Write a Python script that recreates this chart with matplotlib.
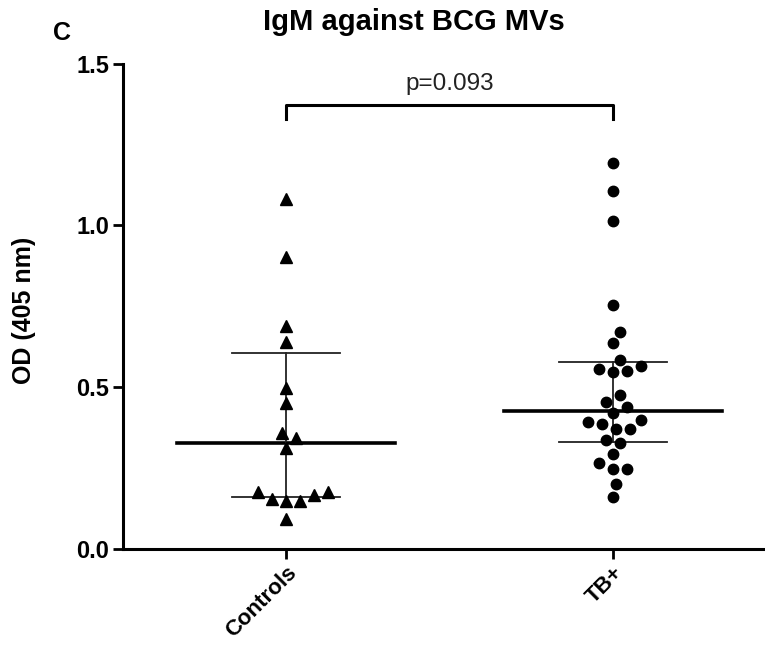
import numpy as np
import matplotlib
matplotlib.use("Agg")
import matplotlib.pyplot as plt

plt.rcParams["font.family"] = ["Liberation Sans", "DejaVu Sans"]

groups = ["Controls", "TB+"]
controls = [1.080, 0.901, 0.689, 0.638, 0.496, 0.449, 0.356, 0.341, 0.312,
            0.176, 0.165, 0.147, 0.147, 0.153, 0.174, 0.090]
tb_pos = [1.191, 1.107, 1.014, 0.754, 0.669, 0.635, 0.583, 0.564, 0.554,
          0.545, 0.549, 0.475, 0.454, 0.437, 0.418, 0.397, 0.392, 0.384,
          0.369, 0.369, 0.336, 0.327, 0.291, 0.264, 0.245, 0.245, 0.200, 0.160]
medians = [0.327, 0.425]
lower = [0.158, 0.328]
upper = [0.606, 0.578]
p_text = "p=0.093"
bracket_y = 1.372
bracket_drop = 0.044

fig = plt.figure(figsize=(7.65, 6.46), dpi=100)
ax = fig.add_axes([0.1608, 0.1509, 0.8392, 0.7508])
ax.set_xlim(-0.498, 1.465)
ax.set_ylim(0, 1.5)


def swarm(values, xpx, ypx, diam=13.0, step=3.5):
    # simple beeswarm in pixel space, returns x offsets in data units
    order = np.argsort(values)
    placed = []
    offs = np.zeros(len(values))
    for i in order:
        y = values[i] * ypx
        k = 0
        while True:
            cands = [0.0] if k == 0 else [k * step, -k * step]
            ok = None
            for c in cands:
                if all((c - px) ** 2 + (y - py) ** 2 >= diam ** 2 for px, py in placed):
                    ok = c
                    break
            if ok is not None:
                break
            k += 1
        placed.append((ok, y))
        offs[i] = ok / xpx
    return offs


fig.canvas.draw()
bb = ax.get_window_extent()
xpx = bb.width / (ax.get_xlim()[1] - ax.get_xlim()[0])
ypx = bb.height / (ax.get_ylim()[1] - ax.get_ylim()[0])

data = [controls, tb_pos]
markers = ["^", "o"]
sizes = [8, 7.5]
for g, (vals, m, ms) in enumerate(zip(data, markers, sizes)):
    vals = np.array(vals)
    offs = swarm(vals, xpx, ypx)
    ax.plot(g + offs, vals, linestyle="none", marker=m, markersize=ms,
            color="black", zorder=3)
    # median and range bars
    ax.plot([g - 0.334, g + 0.334], [medians[g]] * 2, color="black", lw=2.6, zorder=2)
    ax.plot([g, g], [lower[g], upper[g]], color="#222222", lw=1.3, zorder=2)
    for v in (lower[g], upper[g]):
        ax.plot([g - 0.166, g + 0.166], [v, v], color="#222222", lw=1.3, zorder=2)

# significance bracket
ax.plot([0, 0, 1, 1], [bracket_y - bracket_drop, bracket_y, bracket_y, bracket_y - bracket_drop],
        color="black", lw=2.2, clip_on=False)
ax.text(0.5, bracket_y + 0.03, p_text, ha="center", va="bottom", fontsize=17.5,
        color="#222222")

for s in ["top", "right"]:
    ax.spines[s].set_visible(False)
for s in ["left", "bottom"]:
    ax.spines[s].set_linewidth(2.2)

ax.set_yticks([0, 0.5, 1.0, 1.5])
ax.set_yticklabels(["0.0", "0.5", "1.0", "1.5"], fontsize=17, fontweight="bold")
ax.set_xticks([0, 1])
ax.set_xticklabels(groups, fontsize=16, fontweight="bold", rotation=45,
                   ha="right", rotation_mode="anchor")
ax.tick_params(axis="both", length=7, width=2, direction="out", pad=3)

fig.text(24 / 765, 1 - 310 / 646, "OD (405 nm)", rotation=90, ha="center",
         va="center", fontsize=18, fontweight="bold")
fig.text(414 / 765, 1 - 22 / 646, "IgM against BCG MVs", ha="center",
         va="center", fontsize=21, fontweight="bold")
fig.text(62 / 765, 1 - 33 / 646, "C", ha="center", va="center",
         fontsize=18, fontweight="bold")

fig.savefig("out.png", dpi=100)
